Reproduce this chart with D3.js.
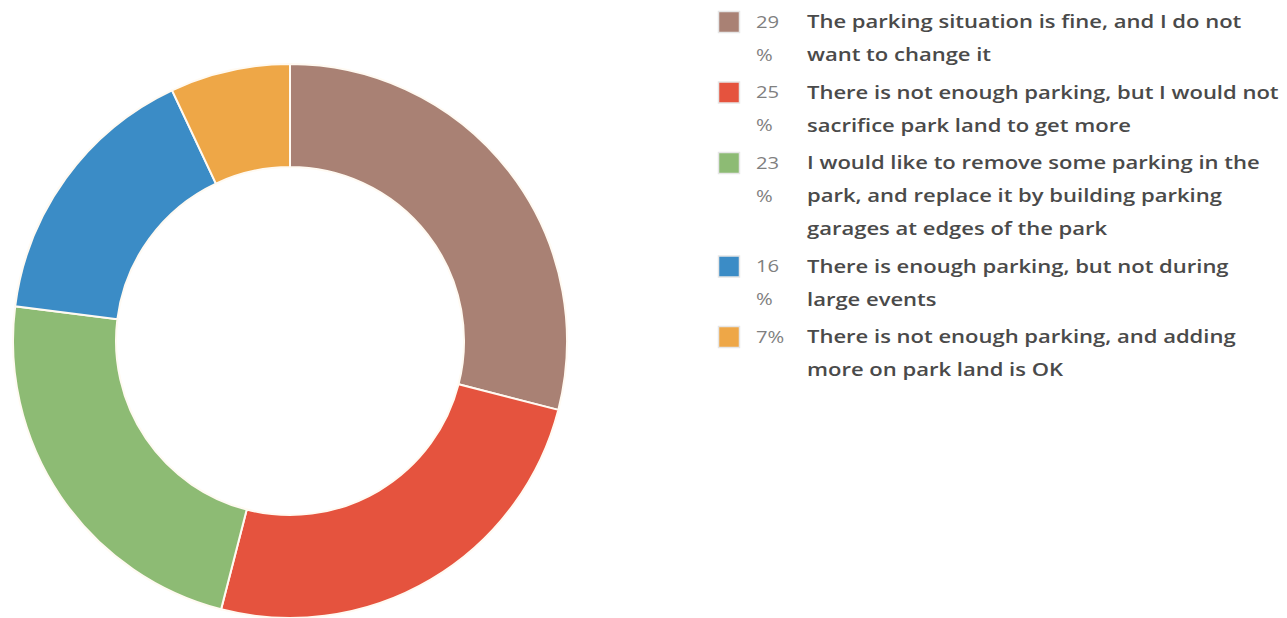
<!DOCTYPE html>
<html><head><meta charset="utf-8">
<script src="https://cdn.jsdelivr.net/npm/d3@7/dist/d3.min.js"></script>
<style>html,body{margin:0;padding:0;background:#fff;}svg{display:block;}</style>
</head><body>
<script>
const categories = [
  "The parking situation is fine, and I do not want to change it",
  "There is not enough parking, but I would not sacrifice park land to get more",
  "I would like to remove some parking in the park, and replace it by building parking garages at edges of the park",
  "There is enough parking, but not during large events",
  "There is not enough parking, and adding more on park land is OK"
];
const labelLines = [
  ["The parking situation is fine, and I do not", "want to change it"],
  ["There is not enough parking, but I would not", "sacrifice park land to get more"],
  ["I would like to remove some parking in the", "park, and replace it by building parking", "garages at edges of the park"],
  ["There is enough parking, but not during", "large events"],
  ["There is not enough parking, and adding", "more on park land is OK"]
];
const values = [29, 25, 23, 16, 7];
const colors = ["#a98174", "#e5533e", "#8dbb74", "#3b8cc6", "#eea747"];

const W = 1287, H = 618;
const svg = d3.select("body").append("svg").attr("width", W).attr("height", H);

const cx = 290, cy = 341, R = 277, r = 174;
const pie = d3.pie().sort(null).value(d => d)(values);
const arc = d3.arc().innerRadius(r).outerRadius(R);
svg.append("g").attr("transform", `translate(${cx},${cy})`)
  .selectAll("path").data(pie).join("path")
  .attr("d", arc)
  .attr("fill", (d, i) => colors[i])
  .attr("stroke", "#fffaf2").attr("stroke-width", 2);

// legend
const lh = 33, gap = 4.5, sx = 1.19;
let y = 22;
const lg = svg.append("g").style("font-family", "'Open Sans', sans-serif");
values.forEach((v, i) => {
  const pctLines = v >= 10 ? [String(v), "%"] : [v + "%"];
  const lines = labelLines[i];
  lg.append("rect").attr("x", 718.5).attr("y", y - 10.5).attr("width", 21).attr("height", 21)
    .attr("fill", colors[i]).attr("stroke", "#e6e6e6").attr("stroke-width", 1.5);
  pctLines.forEach((t, k) => {
    lg.append("text").attr("transform", `translate(756,${y + k * lh}) scale(${sx},1)`).attr("dy", "0.35em")
      .attr("font-size", 17).attr("fill", "#808080").text(t);
  });
  lines.forEach((t, k) => {
    lg.append("text").attr("transform", `translate(807,${y + k * lh}) scale(${sx},1)`).attr("dy", "0.35em")
      .attr("font-size", 18.5).attr("font-weight", 600).attr("fill", "#4a4a4a").text(t);
  });
  y += lines.length * lh + gap;
});
</script>
</body></html>
